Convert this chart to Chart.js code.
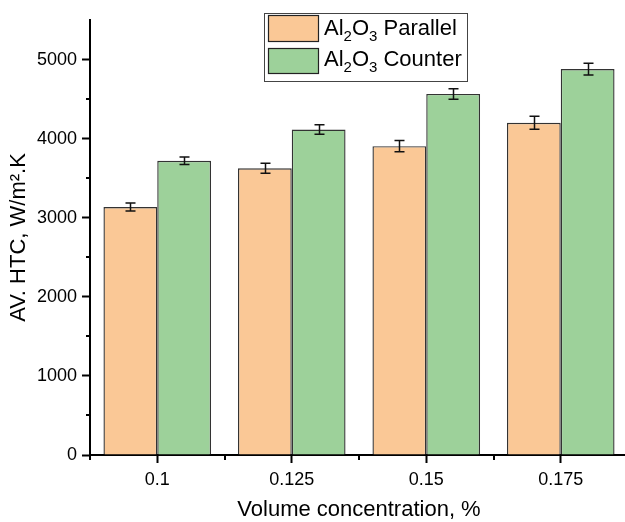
<!DOCTYPE html>
<html>
<head>
<meta charset="utf-8">
<script src="https://cdn.jsdelivr.net/npm/chart.js@4.4.1/dist/chart.umd.min.js"></script>
<style>
  html, body { margin: 0; padding: 0; background: #fff; overflow: hidden; }
  canvas { display: block; }
</style>
</head>
<body>
<canvas id="grafico" width="628" height="522"></canvas>
<script>
// dados
const categorias = ['0.1', '0.125', '0.15', '0.175'];
const paralelo = [3135, 3625, 3905, 4200];
const paraleloErro = [50, 63, 70, 82];
const contra = [3720, 4115, 4565, 4880];
const contraErro = [48, 60, 67, 74];
const yTicks = [0, 1000, 2000, 3000, 4000, 5000];
const yMenores = [500, 1500, 2500, 3500, 4500];
// texto da legenda: [pedaço, é subscrito?]
const legendaParalelo = [['Al', false], ['2', true], ['O', false], ['3', true], [' Parallel', false]];
const legendaContra = [['Al', false], ['2', true], ['O', false], ['3', true], [' Counter', false]];

const fonte = "Liberation Sans, Arial, sans-serif";
const corLaranja = '#FAC896';
const corVerde = '#9DD19A';
const corBorda = '#333';

// barras de erro
const barrasErro = {
  id: 'barrasErro',
  afterDatasetsDraw(chart) {
    const ctx = chart.ctx;
    const y = chart.scales.y;
    const erros = [paraleloErro, contraErro];
    ctx.save();
    ctx.strokeStyle = '#111';
    ctx.lineWidth = 1.5;
    chart.data.datasets.forEach((ds, i) => {
      const meta = chart.getDatasetMeta(i);
      meta.data.forEach((bar, j) => {
        const v = ds.data[j], e = erros[i][j];
        const x = Math.round(bar.x) + 0.5;
        const yt = y.getPixelForValue(v + e);
        const yb = y.getPixelForValue(v - e);
        ctx.beginPath();
        ctx.moveTo(x, yt); ctx.lineTo(x, yb);
        ctx.moveTo(x - 5, yt); ctx.lineTo(x + 5, yt);
        ctx.moveTo(x - 5, yb); ctx.lineTo(x + 5, yb);
        ctx.stroke();
      });
    });
    ctx.restore();
  }
};

// ticks menores e legenda com subscritos
const extras = {
  id: 'extras',
  afterDraw(chart) {
    const ctx = chart.ctx;
    const { left, bottom } = chart.chartArea;
    const x = chart.scales.x, y = chart.scales.y;
    ctx.save();
    ctx.strokeStyle = '#000';
    ctx.lineWidth = 2;
    ctx.beginPath();
    yMenores.forEach(v => {
      const py = Math.round(y.getPixelForValue(v));
      ctx.moveTo(left - 4, py); ctx.lineTo(left, py);
    });
    const passo = x.getPixelForValue(1) - x.getPixelForValue(0);
    for (let j = 0; j <= categorias.length; j++) {
      const px = Math.round(x.getPixelForValue(j) - passo / 2);
      ctx.moveTo(px, bottom); ctx.lineTo(px, bottom + 5);
    }
    ctx.stroke();

    // legenda
    ctx.fillStyle = '#fff';
    ctx.fillRect(264.5, 13.5, 203, 68);
    ctx.strokeStyle = '#444';
    ctx.lineWidth = 1;
    ctx.strokeRect(264.5, 13.5, 203, 68);
    const linhas = [
      { cor: corLaranja, caixa: [268.5, 15.5, 50, 26], base: 35, partes: legendaParalelo },
      { cor: corVerde, caixa: [268.5, 48.5, 50, 25], base: 66, partes: legendaContra }
    ];
    linhas.forEach(l => {
      ctx.fillStyle = l.cor;
      ctx.fillRect(...l.caixa);
      ctx.strokeStyle = '#222';
      ctx.lineWidth = 1.2;
      ctx.strokeRect(...l.caixa);
      let px = 324;
      ctx.fillStyle = '#000';
      ctx.textBaseline = 'alphabetic';
      l.partes.forEach(([t, sub]) => {
        ctx.font = (sub ? '15px ' : '22px ') + fonte;
        ctx.fillText(t, px, l.base + (sub ? 6 : 0));
        px += ctx.measureText(t).width;
      });
    });
    ctx.restore();
  }
};

new Chart(document.getElementById('grafico'), {
  type: 'bar',
  data: {
    labels: categorias,
    datasets: [
      { label: 'Al₂O₃ Parallel', data: paralelo, backgroundColor: corLaranja, borderColor: corBorda, borderWidth: 1.4, categoryPercentage: 0.8, barPercentage: 1 },
      { label: 'Al₂O₃ Counter', data: contra, backgroundColor: corVerde, borderColor: corBorda, borderWidth: 1.4, categoryPercentage: 0.8, barPercentage: 1 }
    ]
  },
  options: {
    responsive: false,
    animation: false,
    layout: { padding: { top: 20, left: 0, right: 0, bottom: 0 } },
    plugins: { legend: { display: false }, tooltip: { enabled: false } },
    scales: {
      x: {
        offset: true,
        grid: { offset: false, drawOnChartArea: false, drawTicks: true, tickLength: 8, tickWidth: 2, tickColor: '#000' },
        border: { display: true, color: '#000', width: 2 },
        ticks: { color: '#000', font: { family: fonte, size: 18 }, padding: 6, maxRotation: 0 },
        title: { display: true, text: 'Volume concentration, %', color: '#000', font: { family: fonte, size: 22, lineHeight: 1.1 }, padding: 0 },
        afterFit: s => { s.height = 67; }
      },
      y: {
        min: 0,
        max: 5500,
        afterBuildTicks: s => { s.ticks = yTicks.map(v => ({ value: v })); },
        grid: { drawOnChartArea: false, drawTicks: true, tickLength: 8, tickWidth: 2, tickColor: '#000' },
        border: { display: true, color: '#000', width: 2 },
        ticks: { color: '#000', font: { family: fonte, size: 18 }, padding: 5, callback: v => String(v) },
        title: { display: true, text: 'AV. HTC, W/m².K', color: '#000', font: { family: fonte, size: 22, lineHeight: 1.1 }, padding: { top: 7, bottom: 0 } },
        afterFit: s => { s.width = 90; }
      }
    }
  },
  plugins: [barrasErro, extras]
});
</script>
</body>
</html>
